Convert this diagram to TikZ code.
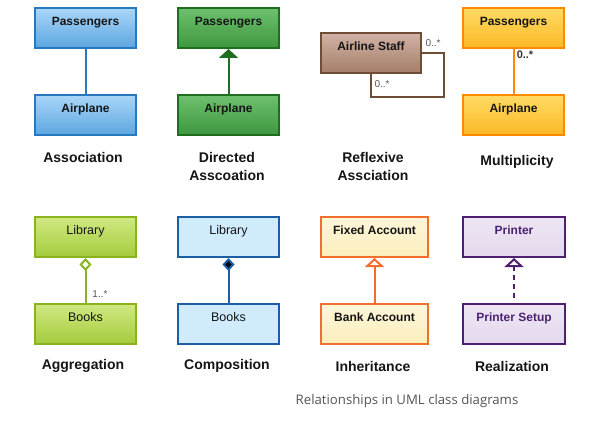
\documentclass[tikz,border=0pt]{standalone}
\usepackage{fontspec}
\setmainfont{Liberation Sans}
\newfontfamily\capfont{Open Sans}
\usetikzlibrary{arrows.meta}
\definecolor{txtdark}{HTML}{151515}
\definecolor{lblgray}{HTML}{555555}
\definecolor{asBd}{HTML}{2878C0}\definecolor{asT}{HTML}{AAD6F8}\definecolor{asB}{HTML}{5CA6E0}
\definecolor{daBd}{HTML}{1F6E1F}\definecolor{daT}{HTML}{6EC06E}\definecolor{daB}{HTML}{3E983E}
\definecolor{rfBd}{HTML}{6E4C35}\definecolor{rfT}{HTML}{D2B2A6}\definecolor{rfB}{HTML}{A37E67}
\definecolor{muBd}{HTML}{FF8A00}\definecolor{muT}{HTML}{FFDB64}\definecolor{muB}{HTML}{FBB826}
\definecolor{muTx}{HTML}{333333}
\definecolor{agBd}{HTML}{8BB320}\definecolor{agT}{HTML}{D0E882}\definecolor{agB}{HTML}{A4CC3C}
\definecolor{coBd}{HTML}{1C5EA6}\definecolor{coF}{HTML}{D0EBFC}
\definecolor{inBd}{HTML}{F26E2D}\definecolor{inT}{HTML}{FDF6DA}\definecolor{inB}{HTML}{FBEEBB}
\definecolor{reBd}{HTML}{4F1F70}\definecolor{reTx}{HTML}{4A2370}\definecolor{reT}{HTML}{EEE6F3}\definecolor{reB}{HTML}{E4D8EE}
\tikzset{
  umlbox/.style={rectangle, minimum width=101pt, minimum height=40pt, inner xsep=2pt,
    inner ysep=8.25pt, text height=9pt, text depth=14.5pt, line width=2pt,
    font=\fontsize{12}{14}\selectfont\bfseries, text=txtdark},
  regbox/.style={umlbox, font=\fontsize{12.5}{14}\selectfont},
  capt/.style={font=\fontsize{14}{18}\selectfont\bfseries, text=txtdark, align=center},
  mult/.style={font=\fontsize{10}{12}\selectfont, text=lblgray},
  conn/.style={line width=2pt}
}
\begin{document}
\begin{tikzpicture}[x=1pt,y=-1pt]
\useasboundingbox[fill=white] (0,0) rectangle (607,428);

% Association
\node[umlbox, draw=asBd, top color=asT, bottom color=asB] (asP) at (85.5,28) {Passengers};
\node[umlbox, draw=asBd, top color=asT, bottom color=asB] (asA) at (85.5,115) {Airplane};
\draw[conn, draw=asBd] (asA.north) -- (asP.south);
\node[capt] (asL) at (83,157) {Association};

% Directed association
\node[umlbox, draw=daBd, top color=daT, bottom color=daB] (daP) at (228.5,28) {Passengers};
\node[umlbox, draw=daBd, top color=daT, bottom color=daB] (daA) at (228.5,115) {Airplane};
\draw[conn, draw=daBd, -{Triangle[width=19pt,length=9pt]}] (daA.north) -- (daP.south);
\node[capt] (daL) at (227,166) {Directed\\Asscoation};

% Reflexive association
\node[umlbox, minimum width=100pt, draw=rfBd, top color=rfT, bottom color=rfB] (rf) at (371,53) {Airline Staff};
\coordinate (rfc) at (444,97);
\draw[line width=1.6pt, draw=rfBd] (rf.east) -| (rfc) -| (rf.south);
\node[mult] (rfm1) at (433,43) {0..*};
\node[mult] (rfm2) at (382,84) {0..*};
\node[capt] (rfL) at (373,166) {Reflexive\\Assciation};

% Multiplicity
\node[umlbox, draw=muBd, top color=muT, bottom color=muB] (muP) at (513.5,28) {Passengers};
\node[umlbox, draw=muBd, top color=muT, bottom color=muB] (muA) at (513.5,115) {Airplane};
\draw[conn, draw=muBd] (muA.north) -- (muP.south);
\node[font=\fontsize{11}{12}\selectfont\bfseries, text=muTx] (mum) at (525,55) {0..*};
\node[capt] (muL) at (517,162) {Multiplicity};

% Aggregation
\node[regbox, draw=agBd, top color=agT, bottom color=agB] (agL) at (85.5,237) {Library};
\node[regbox, draw=agBd, top color=agT, bottom color=agB] (agB) at (85.5,324) {Books};
\draw[conn, draw=agBd, {Diamond[open,width=12pt,length=13pt,line width=2pt,fill=white]}-] (agL.south) -- (agB.north);
\node[mult] (agm) at (100,294) {1..*};
\node[capt] (agC) at (83,366) {Aggregation};

% Composition
\node[regbox, draw=coBd, fill=coF] (coL) at (228.5,237) {Library};
\node[regbox, draw=coBd, fill=coF] (coB) at (228.5,324) {Books};
\draw[conn, draw=coBd, {Diamond[width=12pt,length=13pt,fill=black]}-] (coL.south) -- (coB.north);
\node[capt] (coC) at (227,366) {Composition};

% Inheritance
\node[umlbox, minimum width=107pt, draw=inBd, top color=inT, bottom color=inB] (inF) at (374.5,237) {Fixed Account};
\node[umlbox, minimum width=107pt, draw=inBd, top color=inT, bottom color=inB] (inB) at (374.5,324) {Bank Account};
\draw[conn, draw=inBd, -{Triangle[open,width=19pt,length=9pt,line width=2pt,fill=white]}] (inB.north) -- (inF.south);
\node[capt] (inC) at (373,366) {Inheritance};

% Realization
\node[umlbox, minimum width=102pt, draw=reBd, text=reTx, top color=reT, bottom color=reB] (reP) at (514,237) {Printer};
\node[umlbox, minimum width=102pt, draw=reBd, text=reTx, top color=reT, bottom color=reB] (reS) at (514,324) {Printer Setup};
\coordinate (reE) at (514,298);
\draw[conn, draw=reBd, dash pattern=on 5pt off 4pt, -{Triangle[open,width=19pt,length=9pt,line width=2pt,fill=white]}] (reE) -- (reP.south);
\node[capt] (reC) at (512,366) {Realization};

% Caption
\node[font=\capfont\fontsize{13.2}{15}\selectfont, text=lblgray] (cap) at (407,401) {Relationships in UML class diagrams};
\end{tikzpicture}
\end{document}
